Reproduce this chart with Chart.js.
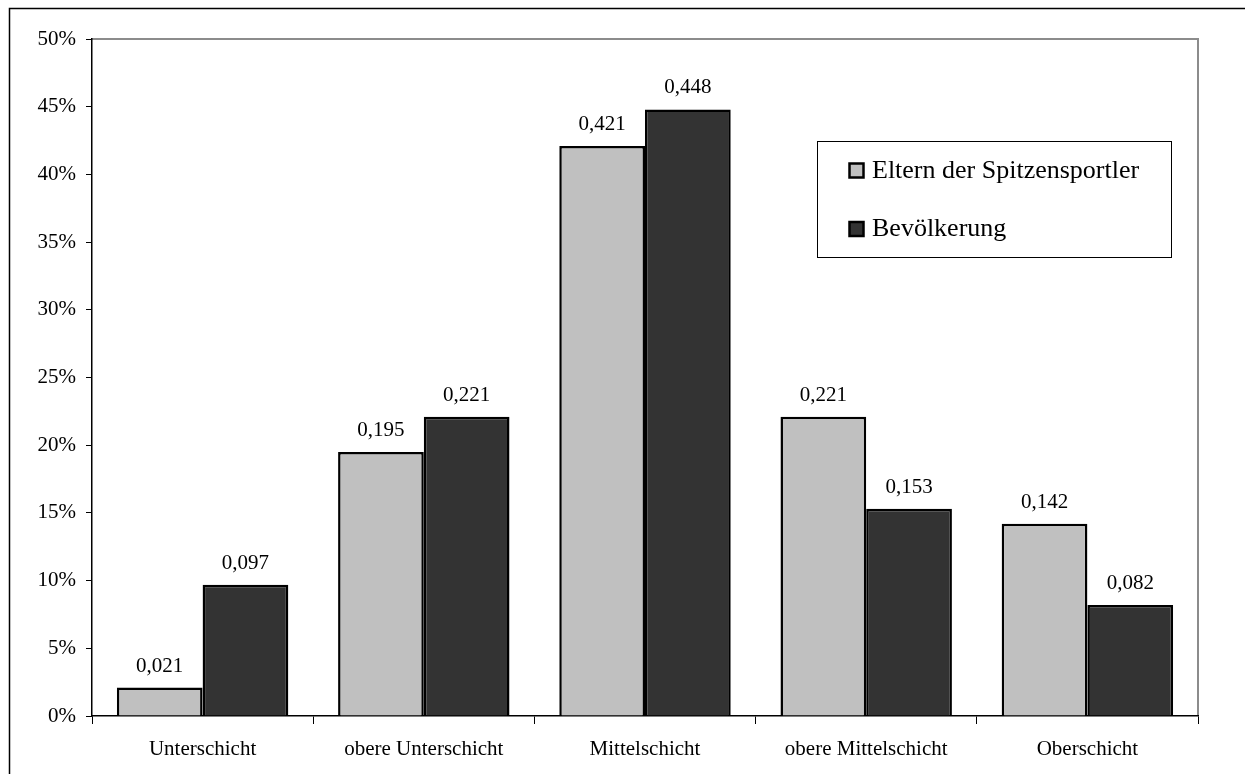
<!DOCTYPE html>
<html>
<head>
<meta charset="utf-8">
<script src="https://cdn.jsdelivr.net/npm/chart.js@4.4.1/dist/chart.umd.min.js"></script>
<style>
  html, body { margin: 0; padding: 0; background: #fff; }
  #wrap { width: 1245px; height: 774px; }
</style>
</head>
<body>
<div id="wrap"><canvas id="chart"></canvas></div>
<script>
const categories = ['Unterschicht', 'obere Unterschicht', 'Mittelschicht', 'obere Mittelschicht', 'Oberschicht'];
const eltern = [0.021, 0.195, 0.421, 0.221, 0.142];
const bevoelkerung = [0.097, 0.221, 0.448, 0.153, 0.082];
const seriesNames = ['Eltern der Spitzensportler', 'Bevölkerung'];

const FONT = '"Liberation Serif", "Times New Roman", serif';
const ctx = document.getElementById('chart');

// Rahmen, Plotfläche, Werte und Legende
const decor = {
  id: 'decor',
  beforeDraw(chart) {
    const c = chart.ctx, a = chart.chartArea;
    c.save();
    c.fillStyle = '#fff';
    c.fillRect(0, 0, chart.width, chart.height);
    c.strokeStyle = '#000';
    c.lineWidth = 1.5;
    c.beginPath();
    c.moveTo(9.5, chart.height);
    c.lineTo(9.5, 8.5);
    c.lineTo(chart.width, 8.5);
    c.stroke();
    c.strokeStyle = '#8c8c8c';
    c.lineWidth = 2;
    c.beginPath();
    c.moveTo(a.left, a.top);
    c.lineTo(a.right, a.top);
    c.lineTo(a.right, a.bottom);
    c.stroke();
    c.restore();
  },
  afterDatasetsDraw(chart) {
    const c = chart.ctx;
    c.save();
    c.font = '21px ' + FONT;
    c.fillStyle = '#000';
    c.textAlign = 'center';
    c.textBaseline = 'alphabetic';
    chart.data.datasets.forEach((ds, i) => {
      chart.getDatasetMeta(i).data.forEach((bar, j) => {
        c.fillText(ds.data[j].toFixed(3).replace('.', ','), bar.x, bar.y - 16);
      });
    });
    // Legende
    const lx = 817, ly = 141, lw = 354, lh = 116;
    c.fillStyle = '#fff';
    c.fillRect(lx, ly, lw, lh);
    c.strokeStyle = '#000';
    c.lineWidth = 1;
    c.strokeRect(lx + 0.5, ly + 0.5, lw, lh);
    c.font = '26px ' + FONT;
    c.textAlign = 'left';
    c.textBaseline = 'middle';
    chart.data.datasets.forEach((ds, i) => {
      const y = ly + 29 + i * 58.5;
      c.fillStyle = ds.backgroundColor;
      c.fillRect(lx + 32.5, y - 6.5, 14, 14);
      c.lineWidth = 2.5;
      c.strokeRect(lx + 32.5, y - 6.5, 14, 14);
      c.fillStyle = '#000';
      c.fillText(ds.label, lx + 55, y + 1);
    });
    c.restore();
  }
};

new Chart(ctx, {
  type: 'bar',
  data: {
    labels: categories,
    datasets: [{
      label: seriesNames[0],
      data: eltern,
      backgroundColor: '#c0c0c0',
      borderColor: '#000',
      borderWidth: 2.5,
      borderSkipped: 'bottom',
      categoryPercentage: 0.775,
      barPercentage: 1
    }, {
      label: seriesNames[1],
      data: bevoelkerung,
      backgroundColor: '#333333',
      borderColor: '#000',
      borderWidth: 2.5,
      borderSkipped: 'bottom',
      categoryPercentage: 0.775,
      barPercentage: 1
    }]
  },
  options: {
    responsive: true,
    maintainAspectRatio: false,
    animation: false,
    layout: { padding: { left: 0, top: 39, right: 47, bottom: 0 } },
    plugins: {
      legend: { display: false },
      tooltip: { enabled: false }
    },
    scales: {
      x: {
        grid: { drawOnChartArea: false, tickLength: 8, color: '#000', lineWidth: 1 },
        border: { color: '#000', width: 1.5 },
        ticks: { color: '#000', font: { family: FONT, size: 21 }, padding: 13, maxRotation: 0 },
        afterFit(scale) { scale.height = 58; }
      },
      y: {
        min: 0,
        max: 0.5,
        grid: { drawOnChartArea: false, tickLength: 6, color: '#000', lineWidth: 1 },
        border: { color: '#000', width: 1.5 },
        ticks: {
          stepSize: 0.05,
          color: '#000',
          font: { family: FONT, size: 21 },
          padding: 10,
          callback: (v) => Math.round(v * 100) + '%'
        },
        afterFit(scale) { scale.width = 92; }
      }
    }
  },
  plugins: [decor]
});
</script>
</body>
</html>
